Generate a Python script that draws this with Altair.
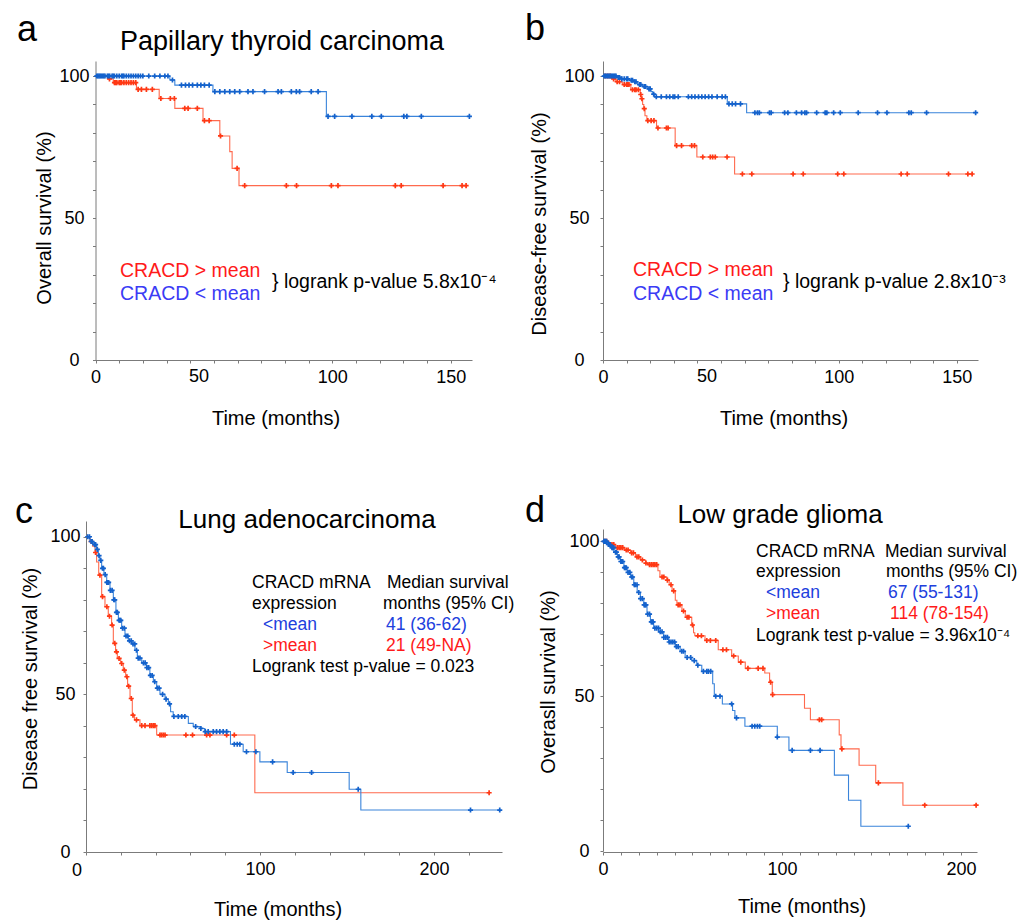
import altair as alt
import numpy as np
import pandas as pd

FONT = "Liberation Sans"
RED_LINE = "#ff6a4e"
RED_MARK = "#ff3814"
BLUE_LINE = "#3a84da"
BLUE_MARK = "#1462cc"
RED_TEXT = "#ff1a1a"
BLUE_TEXT = "#3b3bf5"
BLUE_TEXT2 = "#2040dd"
AXIS_GRAY = "#7b7b7b"
PLUS = "M-1,0L1,0M0,-1L0,1"

# ---------------- Panel a: Papillary thyroid carcinoma (overall survival) ----------------
a_lo_t = [0, 31.4, 33.5, 49.6, 97.5, 157.9]
a_lo_s = [100, 98.6, 96.8, 94.5, 85.8, 85.8]
a_lo_c = [0.5, 1, 1.5, 2, 2.5, 3, 3.5, 4, 5, 5.5, 6, 7, 7.5, 8, 9, 10, 11, 11.5, 12, 13, 14, 15,
          16, 17, 18, 19, 20, 22.5, 25, 27.2, 29.3, 30.6, 32.5, 36.3, 38, 39.5, 41, 43, 44.5, 46,
          48, 50.4, 52.5, 54.6, 56.7, 58.8, 60.9, 64.4, 66.5, 71.4, 77.1, 78.5, 82.7, 84.8, 86.2,
          91.1, 94, 98.2, 101, 108.3, 116.7, 120.7, 130.2, 131.5, 137.6, 157.9]
a_hi_t = [0, 5.3, 7.5, 17.3, 26.9, 33.5, 45.4, 52.5, 56.7, 57.7, 60.6, 156.5]
a_hi_s = [100, 99, 97.7, 95.3, 92.1, 88.6, 84.3, 78.9, 73.4, 67.5, 61.4, 61.4]
a_hi_c = [5.9, 8, 8.5, 9, 10, 10.5, 11, 12, 13, 14, 15, 16, 17, 18, 19.4, 21.5, 24, 27.6, 31.6,
          33.3, 37.7, 39.1, 43, 46, 48, 52.8, 59.8, 63, 80.6, 84.9, 99.6, 102.4, 126.6, 129.1,
          146.8, 154.8, 156.5]

# ---------------- Panel b: disease-free survival ----------------
b_lo_t = [0, 6.1, 7.5, 11.1, 13.3, 14.7, 16.8, 19, 20.4, 21.1, 21.8, 52.7, 60.9, 158]
b_lo_s = [100, 99.5, 99, 98.5, 98, 97, 96.3, 95.5, 94.5, 93.6, 92.7, 90.2, 87.1, 87.1]
b_lo_c = [0.5, 1, 1.5, 2, 2.5, 3, 3.5, 4, 4.5, 5, 5.5, 6.5, 7, 8, 9, 10, 10.5, 12, 12.5, 13.5,
          14, 15.5, 16, 17.5, 18, 19.5, 20, 21.5, 22.6, 24.7, 26.9, 28.3, 29.7, 30.4, 31.9, 36.2,
          37.6, 39, 40.5, 41.9, 43.3, 44.8, 46.2, 48.4, 50.5, 51.9, 53.4, 54.8, 56.2, 58.3, 64.4,
          65.5, 66.3, 70.6, 71.3, 77, 78.4, 82, 84.2, 85.6, 86.3, 90.6, 94.2, 94.9, 97.8, 100.6,
          108.2, 116.4, 120.4, 129.7, 130.7, 137.2, 158]
b_hi_t = [0, 3.9, 5.4, 8.2, 11.8, 15.8, 16.1, 16.8, 17.3, 17.8, 18.6, 22.7, 30.6, 39.8, 55.8, 156.5]
b_hi_s = [100, 99, 98, 97, 95.2, 93.5, 92, 90, 88.5, 86, 84.3, 81.7, 75.5, 71.5, 65.5, 65.5]
b_hi_c = [1, 2, 3, 4.5, 6, 7, 9, 10, 10.5, 11, 12.5, 13.5, 14, 15, 16, 16.5, 17.5, 19, 20.4, 21.6,
          23.3, 26.9, 27.6, 31.2, 33.3, 37.6, 38.8, 42.3, 45.5, 46.5, 47.6, 52.6, 59.1, 63.1, 80.6,
          84.9, 99.5, 102.1, 126.4, 129, 146.5, 154.7, 156.5]

# ---------------- Panel c: Lung adenocarcinoma ----------------
c_lo_t = [0, 2.3, 4.2, 6.1, 7.1, 8, 9, 10.3, 11.9, 13.8, 15.7, 17.2, 18.6, 20.5, 22.4, 24.3, 26.2,
          28.1, 29.5, 32, 34.8, 36.7, 38.7, 40.6, 42.5, 45.4, 47.3, 48.6, 50.1, 58.8, 61.6, 65.5,
          68.3, 83, 90.3, 99.9, 115.6, 151.2, 157.9, 237.7]
c_lo_s = [100, 98.5, 97.5, 96, 94, 92.5, 90, 88, 85.5, 83, 80, 76, 73.5, 71, 68.5, 67, 66, 64,
          61.5, 60, 58.5, 56, 54, 52, 50, 48.5, 47, 44.5, 43, 40.8, 39.8, 39.2, 38.2, 34.2, 31.8,
          28.6, 25.2, 19.9, 13.3, 13.3]
c_lo_c = [1, 2, 3, 3.5, 5, 5.5, 6.5, 7.5, 8.5, 9.5, 10, 11, 12, 12.5, 13, 14, 15, 16, 16.5, 17.5,
          18, 19, 19.5, 20, 21, 22, 23, 24, 25, 26, 27, 28, 29, 30, 31, 33, 34, 35, 36, 37, 38,
          39.5, 41, 42, 44, 46, 48, 50.5, 53, 55, 56.8, 63, 66, 68.5, 70.2, 73.1, 75, 76.9, 78.8,
          80.8, 85.2, 86.9, 88.4, 92.2, 97.6, 107.2, 119, 129.6, 156.4, 220.9, 237.7]
c_hi_t = [0, 2.3, 3.8, 5.2, 6.1, 7.3, 9, 10.9, 12.8, 14.7, 15.7, 17, 18, 19.9, 21.4, 22.8, 23.9,
          25.3, 26.6, 27.8, 31, 40.6, 97, 231.6]
c_hi_s = [100, 98.5, 97, 95, 92, 87.8, 81, 77.8, 74.8, 72, 66.2, 63.5, 61.4, 59.8, 57.7, 55.6,
          52.6, 48.7, 43.4, 41.9, 40.1, 37.1, 18.8, 18.8]
c_hi_c = [3, 5.5, 8, 9.5, 12, 13.5, 15, 16.5, 17.5, 19, 20.5, 22, 23.5, 24.5, 26, 27, 29, 32, 33.9,
          36.7, 37.7, 38.7, 39.6, 42.5, 43.4, 44.4, 45.4, 57.4, 61.2, 69.3, 71.2, 80.8, 85.2, 231.6]

# ---------------- Panel d: Low grade glioma ----------------
d_lo_t = [0, 2.4, 4.3, 6.1, 8, 9.8, 11.7, 13.5, 15.4, 17.2, 19.1, 20.9, 22.8, 24.6, 26.5, 28.3,
          31.1, 33.9, 36.7, 40.4, 43.1, 45.9, 49.6, 52.4, 55.2, 61.3, 62.2, 66.7, 72.4, 73.7, 79.3,
          97.4, 103.9, 129.3, 137.2, 144.1, 170.6]
d_lo_s = [100, 99, 98, 96.5, 95, 93.5, 91.5, 90, 88.5, 86, 83.5, 81.5, 79.5, 76.5, 74, 72, 70.8,
          69, 67.5, 66, 64.5, 62.5, 61.5, 60, 58, 54, 50, 47.5, 45.4, 43, 40.3, 36.8, 32.5, 24.5,
          16.4, 8, 8]
d_lo_c = [0.5, 1, 1.5, 2, 3, 3.5, 4, 5, 5.5, 6, 7, 7.5, 8.5, 9, 10, 10.5, 11, 12, 12.5, 13, 14,
          15, 16, 16.5, 17.5, 18, 19, 20, 21, 22, 23, 23.5, 24, 25, 26, 27, 27.5, 28, 29, 30, 31,
          32, 33, 34, 35, 36, 37, 38, 39, 40, 41, 42, 44, 45, 47, 49, 51, 53, 56.1, 58, 58.9, 60.2,
          63, 65.4, 71.9, 74.6, 83.3, 84.8, 86.3, 87.6, 97.4, 105.7, 115.9, 121.3, 170.6]
d_hi_t = [0, 3.3, 7, 12, 15.4, 18.2, 21, 23.8, 25.7, 30.7, 31.8, 35.7, 37, 38.6, 40.4, 41.3, 44.1,
          46, 49.6, 50.6, 51.3, 57, 64.4, 71.9, 75.6, 79.5, 90.4, 93.1, 94.6, 112.6, 115.9, 132,
          133, 143.1, 152.4, 167.6, 208.5]
d_hi_s = [100, 99, 98, 97.2, 96.3, 95, 94, 93, 92.5, 90.5, 88.5, 87.5, 86, 84, 81, 79.5, 77.5,
          75.5, 73, 70.5, 69.5, 68, 65, 63, 61, 59, 57.5, 54.5, 50.5, 46.1, 42.4, 37.5, 33, 27.7,
          22, 14.8, 14.8]
d_hi_c = [1, 2, 4, 5, 6, 8, 9, 10, 11, 13, 14, 16, 17, 19, 20, 22, 24, 26, 27, 28, 29, 30, 33, 34,
          36, 38, 39.5, 42, 43, 45, 47, 48, 50, 53, 55, 58, 60, 63, 67, 69, 73, 77, 81, 86.7, 89.4,
          93.7, 94.8, 120.9, 122.2, 133.5, 153.9, 179.8, 208.5]

# ---------------- text ----------------
legend_hi = "CRACD > mean"
legend_lo = "CRACD < mean"
pval_a = "} logrank p-value 5.8x10\u207b\u2074"
pval_b = "} logrank p-value 2.8x10\u207b\u00b3"
table_head = ["CRACD mRNA", "expression", "Median survival", "months (95% CI)"]
c_rows = ["<mean", ">mean", "41 (36-62)", "21 (49-NA)", "Logrank test p-value = 0.023"]
d_rows = ["<mean", ">mean", "67 (55-131)", "114 (78-154)",
          "Logrank test p-value = 3.96x10\u207b\u2074"]
# tick labels that sit off their ticks in the original figure
shifted_labels = {"a": "50", "b": "50", "c": "0"}


def surv_at(step_t, step_s, times):
    idx = np.searchsorted(np.asarray(step_t), np.asarray(times), side="right") - 1
    return np.asarray(step_s)[np.clip(idx, 0, None)]


def txt(s, x, y, size, color="black", align="left", baseline="alphabetic", angle=0):
    return alt.Chart(alt.Data(values=[{}])).mark_text(
        text=s, font=FONT, fontSize=size, color=color, align=align,
        baseline=baseline, angle=angle
    ).encode(x=alt.value(x), y=alt.value(y))


def panel(curves, xdom, xstep, xlab_every, ydom, width, height, xrange=None, yrange=None,
          yoffset=0, ylabpad=18, hide_label=None, extra=()):
    xs_kw = dict(domain=xdom, nice=False, zero=False)
    if xrange is not None:
        xs_kw["range"] = xrange
    ys_kw = dict(domain=ydom, nice=False, zero=False)
    if yrange is not None:
        ys_kw["range"] = yrange
    xs = alt.Scale(**xs_kw)
    ys = alt.Scale(**ys_kw)
    common = dict(title=None, grid=False, tickSize=3, labelFlush=False,
                  labelOverlap=False, domainColor=AXIS_GRAY, tickColor=AXIS_GRAY,
                  labelFont=FONT, labelFontSize=18, labelColor="black")
    cond = f"datum.value % {xlab_every} === 0"
    if hide_label is not None:
        cond += f" && datum.value !== {hide_label}"
    xaxis = alt.Axis(values=list(np.arange(0, xdom[1] + 0.01, xstep)), labelPadding=5,
                     labelExpr=f"{cond} ? datum.label : ''", **common)
    yaxis = alt.Axis(values=list(range(0, 101, 10)), labelPadding=ylabpad, labelAlign="center",
                     labelExpr="datum.value % 50 === 0 ? datum.label : ''",
                     offset=yoffset, **common)
    X = alt.X("t:Q", scale=xs, axis=xaxis)
    Y = alt.Y("s:Q", scale=ys, axis=yaxis)
    layers = []
    for st, ss, ct, lc, mc in curves:
        ldf = pd.DataFrame({"t": st, "s": ss})
        cdf = pd.DataFrame({"t": ct, "s": surv_at(st, ss, ct)})
        layers.append(alt.Chart(ldf).mark_line(interpolate="step-after", color=lc,
                                                strokeWidth=1.1).encode(x=X, y=Y))
        layers.append(alt.Chart(cdf).mark_point(shape=PLUS, filled=False, color=mc,
                                                strokeWidth=1.7, size=26, opacity=1
                                                ).encode(x=X, y=Y))
    layers.extend(extra)
    return alt.layer(*layers).properties(width=width, height=height)


# anchor fixes the canvas origin relative to panel a's view
anchor = alt.Chart(alt.Data(values=[{}])).mark_rule(strokeWidth=0, opacity=0).encode(
    x=alt.value(-86), x2=alt.value(-86), y=alt.value(-61), y2=alt.value(-60))

pa = panel(
    [(a_hi_t, a_hi_s, a_hi_c, RED_LINE, RED_MARK), (a_lo_t, a_lo_s, a_lo_c, BLUE_LINE, BLUE_MARK)],
    [0, 159], 10, 50, [0, 105.3], 386, 299, xrange=[9.5, 386], yoffset=-9.5, ylabpad=18.5,
    hide_label=50,
    extra=[anchor,
           txt("a", -69, -20, 36),
           txt("Papillary thyroid carcinoma", 196, -11, 27, align="center"),
           txt(legend_hi, 34, 216, 19.5, RED_TEXT),
           txt(legend_lo, 34, 239, 19.5, BLUE_TEXT),
           txt(pval_a, 186, 227, 19.5),
           txt(shifted_labels["a"], 113, 307, 18, align="center", baseline="top"),
           txt("Overall survival (%)", -41, 157, 20, align="center", baseline="middle", angle=270),
           txt("Time (months)", 190, 364, 20, align="center")])

pb = panel(
    [(b_hi_t, b_hi_s, b_hi_c, RED_LINE, RED_MARK), (b_lo_t, b_lo_s, b_lo_c, BLUE_LINE, BLUE_MARK)],
    [0, 159], 10, 50, [0, 105.3], 375, 299, ylabpad=21, hide_label=50,
    extra=[txt("b", -78, -21, 36),
           txt(legend_hi, 30, 215, 19.5, RED_TEXT),
           txt(legend_lo, 30, 239, 19.5, BLUE_TEXT),
           txt(pval_b, 180, 227, 19.5),
           txt(shifted_labels["b"], 104, 307, 18, align="center", baseline="top"),
           txt("Disease-free survival (%)", -63, 163, 20, align="center", baseline="middle",
               angle=270),
           txt("Time (months)", 181, 364, 20, align="center")])

pc = panel(
    [(c_hi_t, c_hi_s, c_hi_c, RED_LINE, RED_MARK), (c_lo_t, c_lo_s, c_lo_c, BLUE_LINE, BLUE_MARK)],
    [0, 239], 20, 100, [0, 105], 416, 331, ylabpad=18, hide_label=0,
    extra=[txt("c", -71, 2, 36),
           txt("Lung adenocarcinoma", 221, 7, 26, align="center"),
           txt(table_head[0], 166, 67, 17.5),
           txt(table_head[1], 166, 88, 17.5),
           txt(table_head[2], 301, 67, 17.5),
           txt(table_head[3], 297, 88, 17.5),
           txt(c_rows[0], 177, 109, 17.5, BLUE_TEXT2),
           txt(c_rows[1], 177, 130, 17.5, RED_TEXT),
           txt(c_rows[2], 300, 109, 17.5, BLUE_TEXT2),
           txt(c_rows[3], 300, 130, 17.5, RED_TEXT),
           txt(c_rows[4], 166, 151, 17.5),
           txt(shifted_labels["c"], -9, 341, 18, align="center", baseline="top"),
           txt("Disease free survival (%)", -55.5, 158, 20, align="center", baseline="middle",
               angle=270),
           txt("Time (months)", 192, 395, 20, align="center")])

pd_ = panel(
    [(d_hi_t, d_hi_s, d_hi_c, RED_LINE, RED_MARK), (d_lo_t, d_lo_s, d_lo_c, BLUE_LINE, BLUE_MARK)],
    [0, 209], 10, 100, [0, 104], 374, 331, yrange=[330, 8], ylabpad=16,
    extra=[txt("d", -78, 1, 36),
           txt("Low grade glioma", 177, 2, 26, align="center"),
           txt(table_head[0], 153, 36, 17.5),
           txt(table_head[1], 153, 56, 17.5),
           txt(table_head[2], 282, 36, 17.5),
           txt(table_head[3], 283, 56, 17.5),
           txt(d_rows[0], 163, 77, 17.5, BLUE_TEXT2),
           txt(d_rows[1], 163, 98, 17.5, RED_TEXT),
           txt(d_rows[2], 285, 77, 17.5, BLUE_TEXT2),
           txt(d_rows[3], 287, 98, 17.5, RED_TEXT),
           txt(d_rows[4], 153, 120, 17.5),
           txt("Overasll survival (%)", -54, 161, 20, align="center", baseline="middle",
               angle=270),
           txt("Time (months)", 199, 392, 20, align="center")])

chart = alt.concat(
    pa, pb, pc, pd_, columns=2, spacing={"row": 161, "column": 101},
    bounds="flush", align="each"
).configure_view(stroke=None).properties(padding=0, background="white")

chart.save("out.html", embed_options={"renderer": "svg", "actions": False})
